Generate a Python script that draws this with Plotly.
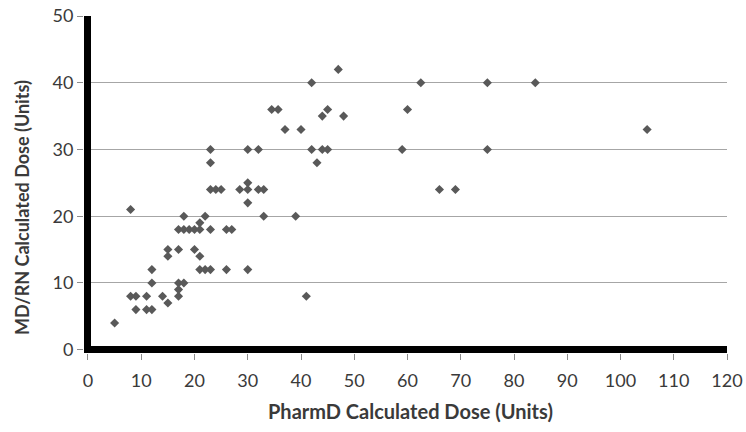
import plotly.graph_objects as go

# PharmD calculated dose (x) vs MD/RN calculated dose (y), units
pharmd_dose = [5, 8, 8, 9, 9, 11, 11, 12, 12, 12, 14, 15, 15, 15, 17, 17, 18, 19, 20, 21,
               23, 18, 21, 22, 20, 21, 21, 22, 23, 17, 18, 17, 17, 23, 24, 25, 23, 23,
               42, 34.5, 35.7, 45, 44, 48, 37, 40, 30, 32, 42, 44, 45, 43, 28.5, 30, 30,
               32, 33, 30, 33, 39, 26, 27, 26, 30, 62.5, 75, 84, 60, 59, 75, 66, 69, 105,
               47, 41]
mdrn_dose = [4, 21, 8, 8, 6, 8, 6, 6, 12, 10, 8, 7, 15, 14, 15, 18, 18, 18, 18, 18,
             18, 20, 19, 20, 15, 14, 12, 12, 12, 10, 10, 9, 8, 24, 24, 24, 28, 30,
             40, 36, 36, 36, 35, 35, 33, 33, 30, 30, 30, 30, 30, 28, 24, 25, 24,
             24, 24, 22, 20, 20, 18, 18, 12, 12, 40, 40, 40, 36, 30, 30, 24, 24, 33,
             42, 8]

x_ticks = [0, 10, 20, 30, 40, 50, 60, 70, 80, 90, 100, 110, 120]
y_ticks = [0, 10, 20, 30, 40, 50]
x_title = "PharmD Calculated Dose (Units)"
y_title = "MD/RN Calculated Dose (Units)"

FONT = "Lato"
TXT = "#3a3a3a"

fig = go.Figure()
fig.add_trace(go.Scatter(
    x=pharmd_dose, y=mdrn_dose, mode="markers",
    marker=dict(symbol="diamond", size=7, color="#595959"),
    showlegend=False,
))

fig.update_layout(
    width=746, height=432,
    margin=dict(l=84, r=19, t=16, b=79),
    paper_bgcolor="white", plot_bgcolor="white",
    font=dict(family=FONT, size=17, color=TXT),
    xaxis=dict(
        range=[-0.75, 120], tickvals=x_ticks, ticktext=[str(v) for v in x_ticks],
        showgrid=False, showline=False, automargin=False,
        zeroline=True, zerolinecolor="black", zerolinewidth=7,
        ticks="outside", ticklen=6, tickcolor="#8c8c8c", tickwidth=1,
        ticklabelstandoff=5, ticklabeloverflow="allow",
        tickfont=dict(family=FONT, size=18, color=TXT),
    ),
    yaxis=dict(
        range=[-0.5, 50], tickvals=y_ticks, ticktext=[str(v) for v in y_ticks],
        showgrid=True, gridcolor="#a6a6a6", gridwidth=1,
        showline=False, automargin=False,
        zeroline=True, zerolinecolor="black", zerolinewidth=7,
        ticks="outside", ticklen=6, tickcolor="#8c8c8c", tickwidth=1,
        ticklabeloverflow="allow",
        tickfont=dict(family=FONT, size=18, color=TXT),
    ),
    annotations=[
        dict(text="<b>" + x_title + "</b>", xref="paper", yref="paper",
             x=0.507, y=-0.173, xanchor="center", yanchor="middle", showarrow=False,
             font=dict(family=FONT, size=20, color=TXT)),
        dict(text="<b>" + y_title + "</b>", xref="paper", yref="paper",
             x=-0.0964, y=0.43, xanchor="center", yanchor="middle", showarrow=False,
             textangle=-90, font=dict(family=FONT, size=18, color=TXT)),
    ],
)

# remove the page's default body margin so the 746x432 figure fills the window
fig.write_html(
    "out.html",
    config={"displayModeBar": False},
    post_script="document.body.style.margin='0';document.body.style.overflow='hidden';",
)
